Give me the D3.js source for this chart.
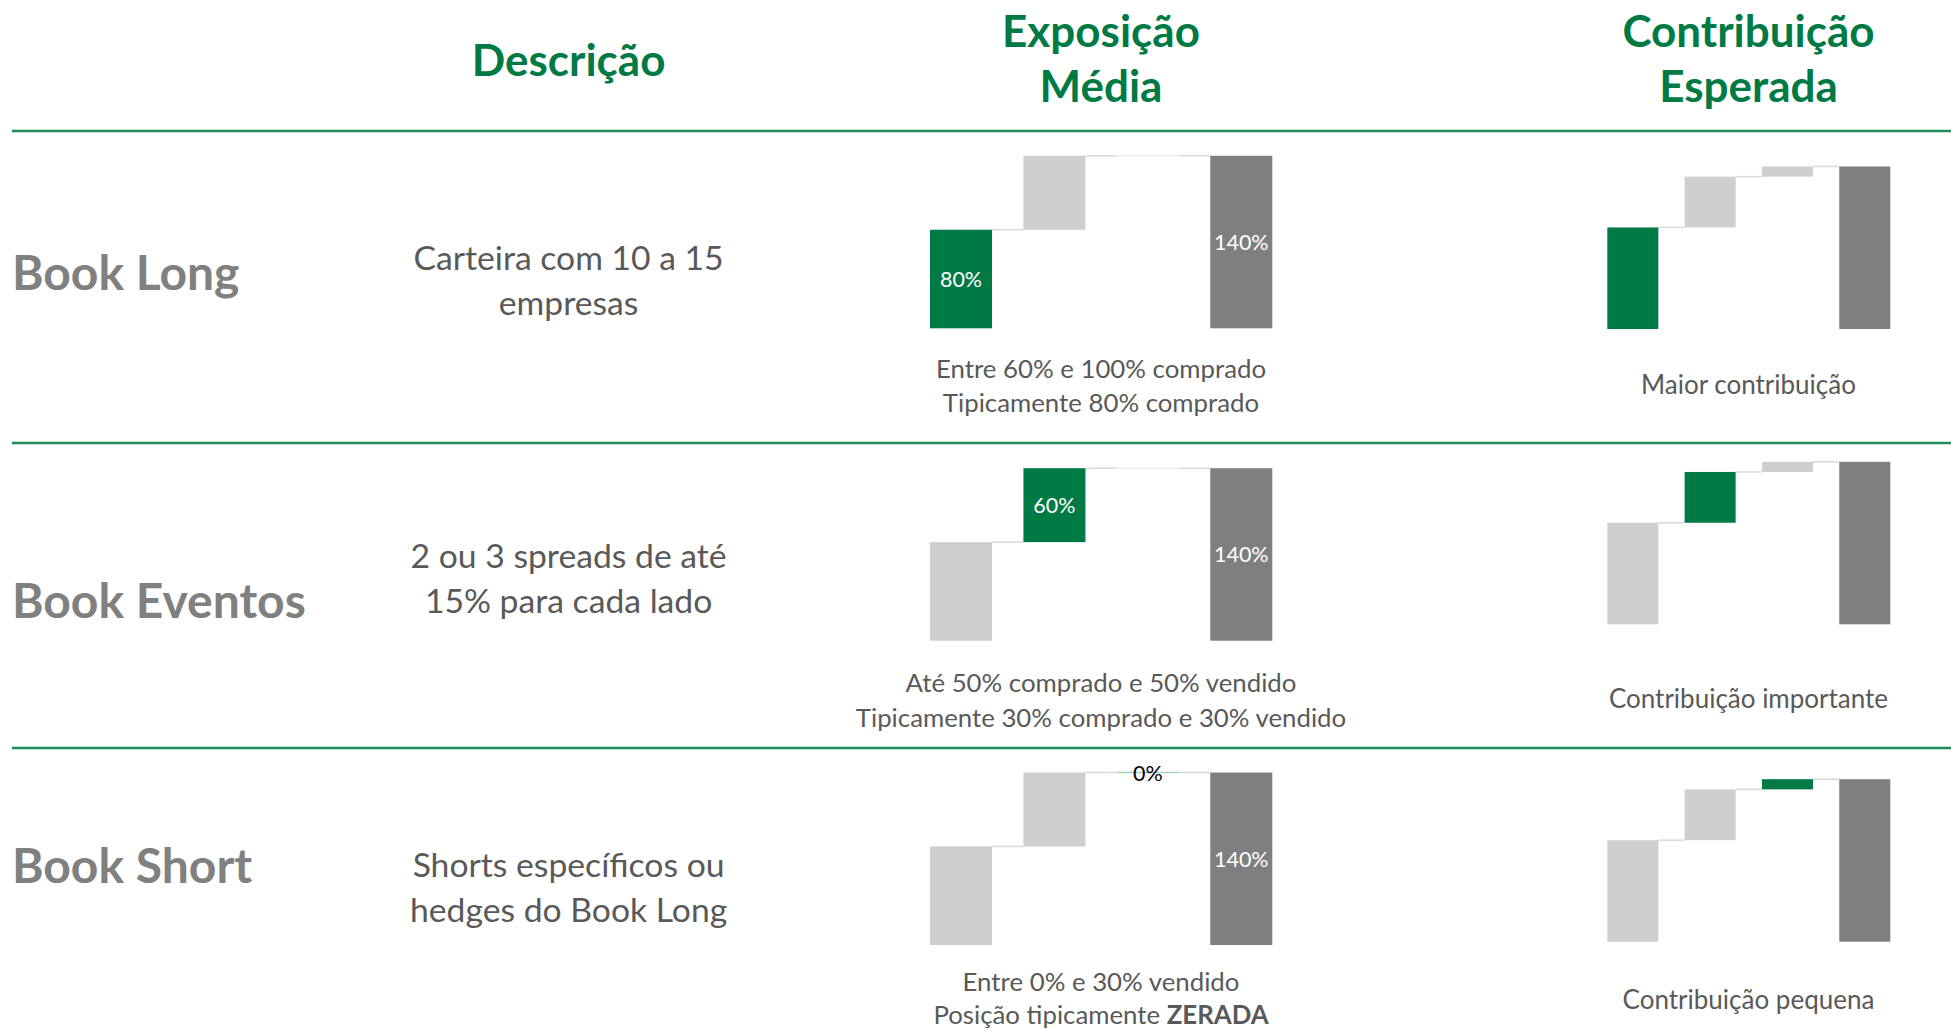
<!DOCTYPE html>
<html><head><meta charset="utf-8">
<script src="https://cdn.jsdelivr.net/npm/d3@7"></script>
<style>html,body{margin:0;padding:0;background:#fff;}svg{display:block;}</style>
</head><body>
<svg id="chart" width="1951" height="1029"></svg>
<script>
// ---------- data ----------
const books = ["Book Long", "Book Eventos", "Book Short"];
const descriptions = [
  ["Carteira com 10 a 15", "empresas"],
  ["2 ou 3 spreads de até", "15% para cada lado"],
  ["Shorts específicos ou", "hedges do Book Long"]
];
const steps = ["Book Long", "Book Eventos", "Book Short", "Total"];
const exposureValues = [80, 60, 0, 140];      // % (last = total)
const contributionValues = [10, 5, 1, 16];    // relative units (last = total)
const exposureNotes = [
  [["Entre 60% e 100% comprado"], ["Tipicamente 80% comprado"]],
  [["Até 50% comprado e 50% vendido"], ["Tipicamente 30% comprado e 30% vendido"]],
  [["Entre 0% e 30% vendido"], ["Posição tipicamente ", "ZERADA"]]
];
const contributionNotes = ["Maior contribuição", "Contribuição importante", "Contribuição pequena"];
const headers = [["Descrição"], ["Exposição", "Média"], ["Contribuição", "Esperada"]];

// ---------- style ----------
const GREEN = "#007A45", LIGHT = "#D0CECE", DARK = "#7F7F7F";
const FONT = "Lato, 'Open Sans', sans-serif";
const svg = d3.select("#chart");

// ---------- layout ----------
const sepY = [131, 443, 748];
const expBase = [328.3, 640.7, 945], expH = 172.5;
const conBase = [329, 624.3, 941.7], conH = 162.5;
const colX = {desc: 568.6, exp: 1101, con: 1748.5};

// headers
const hdrX = [colX.desc, colX.exp, colX.con];
const hdrY = [[76], [46.7, 101.7], [46.7, 101.7]];
headers.forEach((lines, i) => {
  lines.forEach((t, j) => {
    svg.append("text").attr("x", hdrX[i]).attr("y", hdrY[i][j])
      .attr("text-anchor", "middle").attr("font-family", FONT).attr("font-weight", 700)
      .attr("font-size", 44).attr("fill", GREEN).text(t);
  });
});

// separators
sepY.forEach(y => svg.append("line").attr("x1", 12).attr("x2", 1951).attr("y1", y).attr("y2", y)
  .attr("stroke", "#1E8C5A").attr("stroke-width", 2.5));

const bookBase = [290, 617.5, 883.3];
const descBase = [[270, 314.8], [567.7, 612.5], [877, 922]];
const expNoteBase = [[378.3, 411.9], [692, 727], [990.8, 1024.4]];
const conNoteBase = [393.5, 708.3, 1009.4];

function waterfall(values) {
  let cum = 0;
  return values.map((v, i) => {
    if (i === values.length - 1) return {i, v, y0: 0, y1: v, total: true};
    const r = {i, v, y0: cum, y1: cum + v, total: false};
    cum += v; return r;
  });
}

function drawChart(g, values, x, y, hi, showLabels) {
  const data = waterfall(values);
  // connectors
  data.slice(0, -1).forEach(d => {
    g.append("line").attr("x1", x(steps[d.i]) + x.bandwidth()).attr("x2", x(steps[d.i + 1]))
      .attr("y1", y(d.y1)).attr("y2", y(d.y1)).attr("stroke", "#D9D9D9").attr("stroke-width", 1.5);
  });
  data.forEach(d => {
    const fill = d.total ? DARK : (d.i === hi ? GREEN : LIGHT);
    const top = y(Math.max(d.y0, d.y1)), bot = y(Math.min(d.y0, d.y1));
    if (bot - top < 0.5) {
      g.append("line").attr("x1", x(steps[d.i])).attr("x2", x(steps[d.i]) + x.bandwidth())
        .attr("y1", top).attr("y2", top).attr("stroke", fill).attr("stroke-opacity", 0.35).attr("stroke-width", 1.5);
    } else {
      g.append("rect").attr("x", x(steps[d.i])).attr("width", x.bandwidth())
        .attr("y", top).attr("height", bot - top).attr("fill", fill);
    }
    if (showLabels && (d.total || d.i === hi)) {
      const cx = x(steps[d.i]) + x.bandwidth() / 2;
      const zero = bot - top < 0.5;
      g.append("text").attr("x", cx).attr("y", zero ? top + 8 : (top + bot) / 2 + 8)
        .attr("text-anchor", "middle").attr("font-family", FONT).attr("font-size", 21.5)
        .attr("fill", zero ? "#000" : "#fff").text(d.v + "%");
    }
  });
}

books.forEach((b, r) => {
  svg.append("text").attr("x", 12).attr("y", bookBase[r]).attr("font-family", FONT).attr("font-weight", 700)
    .attr("font-size", 48).attr("fill", "#808080").text(b);
  descriptions[r].forEach((t, j) => svg.append("text").attr("x", colX.desc).attr("y", descBase[r][j])
    .attr("text-anchor", "middle").attr("font-family", FONT).attr("font-size", 33.7).attr("fill", "#595959").text(t));

  // exposure chart
  const xe = d3.scaleBand().domain(steps).range([930, 1272.3]).paddingInner(0.336).paddingOuter(0);
  const ye = d3.scaleLinear().domain([0, d3.max(exposureValues)]).range([expBase[r], expBase[r] - expH]);
  drawChart(svg.append("g"), exposureValues, xe, ye, r, true);
  exposureNotes[r].forEach((parts, j) => {
    const t = svg.append("text").attr("x", colX.exp).attr("y", expNoteBase[r][j]).attr("text-anchor", "middle")
      .attr("font-family", FONT).attr("font-size", 25.8).attr("fill", "#595959");
    parts.forEach((p, k) => t.append("tspan").attr("font-weight", k === 1 ? 700 : 400).text(p));
  });

  // contribution chart
  const xc = d3.scaleBand().domain(steps).range([1607.3, 1890.3]).paddingInner(0.34).paddingOuter(0);
  const yc = d3.scaleLinear().domain([0, d3.max(contributionValues)]).range([conBase[r], conBase[r] - conH]);
  drawChart(svg.append("g"), contributionValues, xc, yc, r, false);
  svg.append("text").attr("x", colX.con).attr("y", conNoteBase[r]).attr("text-anchor", "middle")
    .attr("font-family", FONT).attr("font-size", 26).attr("fill", "#595959").text(contributionNotes[r]);
});
</script>
</body></html>
